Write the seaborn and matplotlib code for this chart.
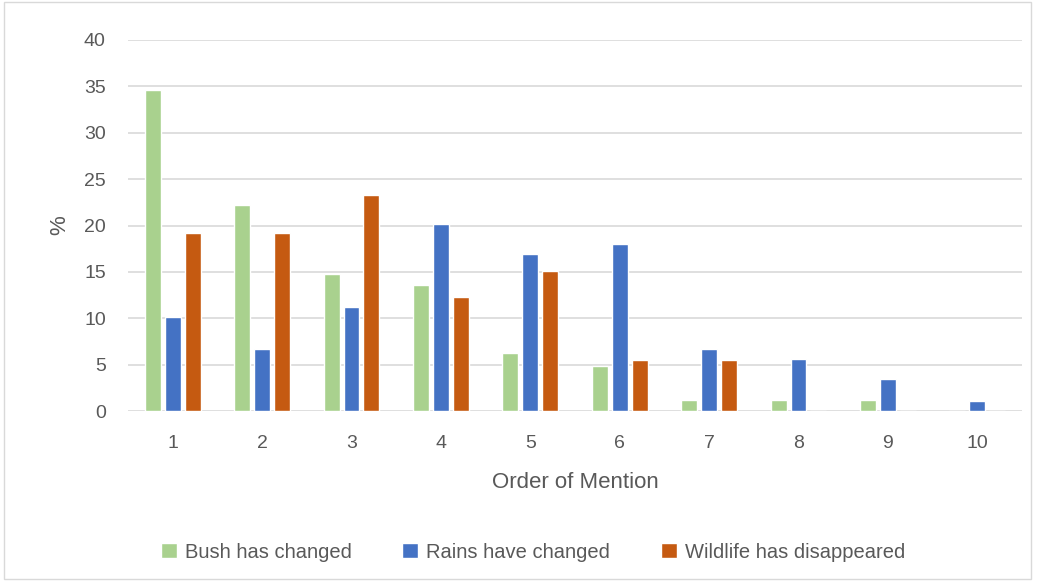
import matplotlib
matplotlib.use("Agg")
import matplotlib.pyplot as plt
import seaborn as sns
import pandas as pd

orders = ["1", "2", "3", "4", "5", "6", "7", "8", "9", "10"]
bush = [34.6, 22.2, 14.8, 13.6, 6.2, 4.9, 1.2, 1.2, 1.2, 0.0]
rains = [10.1, 6.7, 11.2, 20.2, 16.9, 18.0, 6.7, 5.6, 3.4, 1.1]
wildlife = [19.2, 19.2, 23.3, 12.3, 15.1, 5.5, 5.5, 0.0, 0.0, 0.0]
series = ["Bush has changed", "Rains have changed", "Wildlife has disappeared"]
colors = ["#A9D18E", "#4472C4", "#C55A11"]

df = pd.DataFrame({"order": orders * 3,
                   "pct": bush + rains + wildlife,
                   "series": [s for s in series for _ in orders]})

sns.set_style("white")
plt.rcParams["font.family"] = ["Liberation Sans", "DejaVu Sans"]
txt = "#595959"

fig = plt.figure(figsize=(10.39, 5.82), dpi=100)
ax = fig.add_axes([128 / 1039, 1 - 411 / 582, 894 / 1039, 371 / 582])

sns.barplot(data=df, x="order", y="pct", hue="series", palette=colors,
            saturation=1, width=0.67, gap=0.2, ax=ax, legend=True)

ax.set_ylim(0, 40)
ax.set_xlim(-0.5, 9.5)
ax.set_yticks(range(0, 41, 5))
ax.yaxis.grid(True, color="#D9D9D9", linewidth=1.2)
ax.set_axisbelow(True)
for s in ax.spines.values():
    s.set_visible(False)
ax.tick_params(axis="both", length=0, labelsize=14, colors=txt)
ax.tick_params(axis="x", pad=17)
ax.tick_params(axis="y", pad=16)
ax.set_xlabel("Order of Mention", fontsize=16, color=txt, labelpad=15)
ax.set_ylabel("%", fontsize=16, color=txt, labelpad=10)

h, l = ax.get_legend_handles_labels()
ax.get_legend().remove()
fig.legend(h, l, loc="center", bbox_to_anchor=(533 / 1039, 1 - 552 / 582), ncol=3,
           frameon=False, fontsize=14.5, labelcolor=txt, handlelength=0.8,
           handleheight=0.8, handletextpad=0.4, columnspacing=2.5)

fig.patches.append(plt.Rectangle((0.004, 0.006), 0.988, 0.99, transform=fig.transFigure,
                                 fill=False, edgecolor="#D9D9D9", linewidth=1))

fig.savefig("out.png", dpi=100)
